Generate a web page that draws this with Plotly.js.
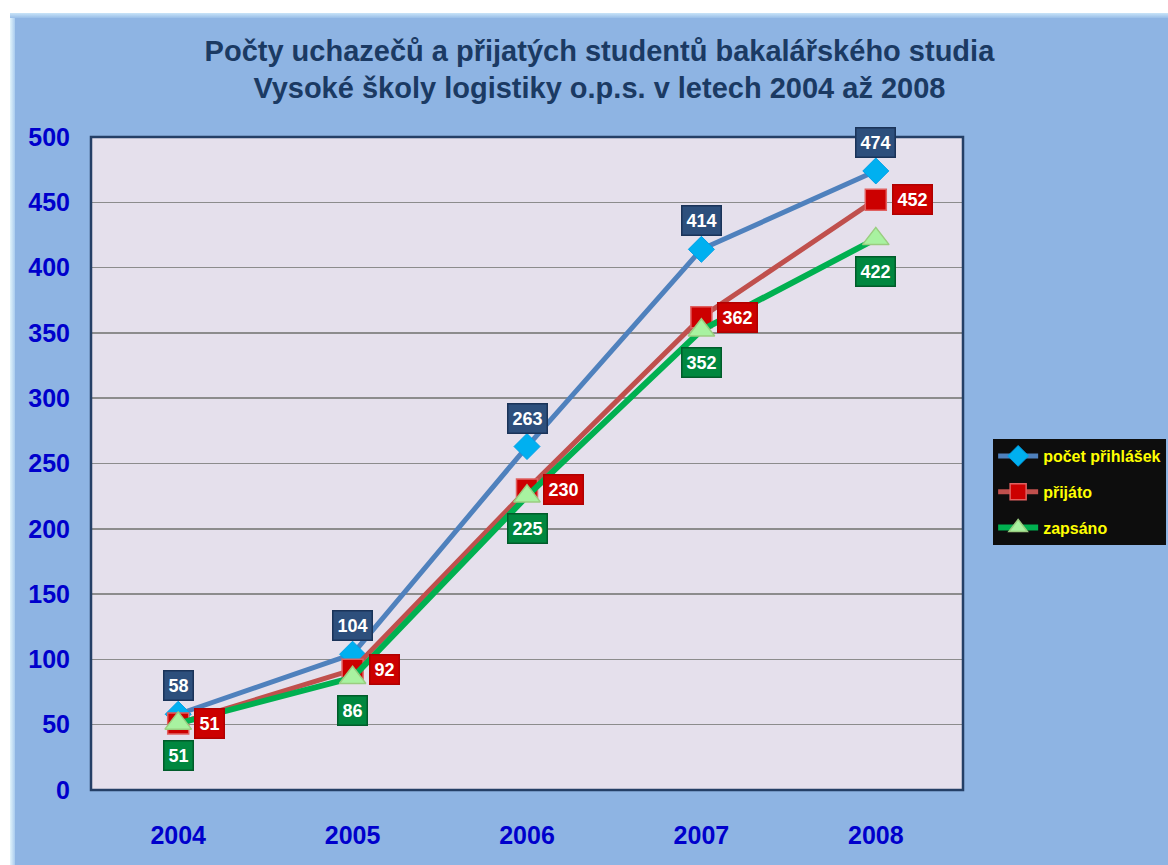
<!DOCTYPE html>
<html>
<head>
<meta charset="utf-8">
<script src="https://cdn.plot.ly/plotly-3.0.1.min.js"></script>
<style>
html,body{margin:0;padding:0;background:#ffffff;width:1168px;height:865px;overflow:hidden;}
#frame{position:absolute;left:10px;top:13px;width:1158px;height:852px;background:#8EB4E3;}
#edgeL{position:absolute;left:10px;top:13px;width:5px;height:852px;background:linear-gradient(to right,#E2F4FC,#A9CBEE);}
#edgeT{position:absolute;left:10px;top:13px;width:1158px;height:5px;background:linear-gradient(to bottom,#C9E4F8,#99BEE8);}
#chart{position:absolute;left:10px;top:13px;width:1158px;height:852px;}
</style>
</head>
<body>
<div id="frame"></div>
<div id="chart"></div>
<div id="edgeL"></div>
<div id="edgeT"></div>
<script>
const years = ['2004', '2005', '2006', '2007', '2008'];
const prihlasek = [58, 104, 263, 414, 474];
const prijato = [51, 92, 230, 362, 452];
const zapsano = [51, 86, 225, 352, 422];
const seriesNames = ['počet přihlášek', 'přijáto', 'zapsáno'];
const titleText = 'Počty uchazečů a přijatých studentů bakalářského studia<br>Vysoké školy logistiky o.p.s. v letech 2004 až 2008';
const yTicks = [0, 50, 100, 150, 200, 250, 300, 350, 400, 450, 500];

const FONT = 'Liberation Sans, Arial, sans-serif';

const traces = [
  {x: years, y: prihlasek, name: seriesNames[0], type: 'scatter', mode: 'lines+markers',
   legendgroup: 'a',
   line: {color: '#4F81BD', width: 5},
   marker: {symbol: 'diamond', size: 20, color: '#00B0F0', line: {color: '#00A0E8', width: 1}}},
  {x: years, y: prijato, name: seriesNames[1], type: 'scatter', mode: 'lines+markers',
   legendgroup: 'b',
   line: {color: '#C0504D', width: 5},
   marker: {symbol: 'square', size: 21, color: '#CC0000', line: {color: '#E06060', width: 1.5}}},
  {x: years, y: zapsano, name: seriesNames[2], type: 'scatter', mode: 'lines+markers',
   legendgroup: 'c',
   line: {color: '#00B050', width: 6},
   marker: {symbol: 'triangle-up', size: 23, color: '#A8F2A0', line: {color: '#9ACD80', width: 1.5}}}
];

// category axis: annotation x given as category index
function lbl(i, y, bg, border, pos) {
  const a = {
    x: i, y: y, xref: 'x', yref: 'y', text: '<b>' + y + '</b>', showarrow: false,
    font: {family: FONT, size: 18, color: '#FFFFFF'},
    bgcolor: bg, bordercolor: border, borderwidth: 1.5, borderpad: 4
  };
  if (pos === 'above') { a.yanchor = 'bottom'; a.yshift = 13; }
  if (pos === 'right') { a.xanchor = 'left'; a.xshift = 16; a.yanchor = 'middle'; }
  if (pos === 'below') { a.yanchor = 'top'; a.yshift = -17; }
  return a;
}

const annotations = [];
years.forEach((yr, i) => {
  annotations.push(lbl(i, prihlasek[i], '#2D4F7C', '#1A3358', 'above'));
  annotations.push(lbl(i, prijato[i], '#CC0000', '#B00000', 'right'));
  annotations.push(lbl(i, zapsano[i], '#00873F', '#005C2A', 'below'));
});

const layout = {
  width: 1158, height: 852,
  paper_bgcolor: 'rgba(0,0,0,0)',
  plot_bgcolor: '#E5E0EC',
  margin: {l: 81, r: 205, t: 124, b: 75},
  title: {
    text: '<b>' + titleText + '</b>',
    font: {family: FONT, size: 29, color: '#1B3A63'},
    x: 0.509, xanchor: 'center', y: 0.944, yanchor: 'top', yref: 'container'
  },
  xaxis: {
    type: 'category', range: [-0.5, 4.5], autorange: false,
    showgrid: false, zeroline: false, showline: false,
    ticks: '', ticklabelstandoff: 28,
    tickfont: {family: FONT, size: 25, color: '#0000CC', weight: 'bold'}
  },
  yaxis: {
    range: [0, 500], autorange: false, tickvals: yTicks,
    showgrid: true, gridcolor: '#8C8C8C', gridwidth: 1.5,
    zeroline: false, showline: false,
    ticks: '', ticklabelstandoff: 20,
    tickfont: {family: FONT, size: 25, color: '#0000CC', weight: 'bold'}
  },
  showlegend: true,
  legend: {
    xref: 'container', yref: 'container',
    x: 0.849, xanchor: 'left', y: 0.5, yanchor: 'top',
    bgcolor: '#0D0D0D', borderwidth: 0,
    font: {family: FONT, size: 16, color: '#FFFF00', weight: 'bold'},
    traceorder: 'grouped', tracegroupgap: 12, itemwidth: 40
  },
  shapes: [
    {type: 'rect', xref: 'paper', yref: 'paper', x0: 0, x1: 1, y0: 0, y1: 1,
     line: {color: '#243F66', width: 2.5}, fillcolor: 'rgba(0,0,0,0)', layer: 'above'}
  ],
  annotations: annotations
};

Plotly.newPlot('chart', traces, layout, {displayModeBar: false, staticPlot: true});
</script>
</body>
</html>
